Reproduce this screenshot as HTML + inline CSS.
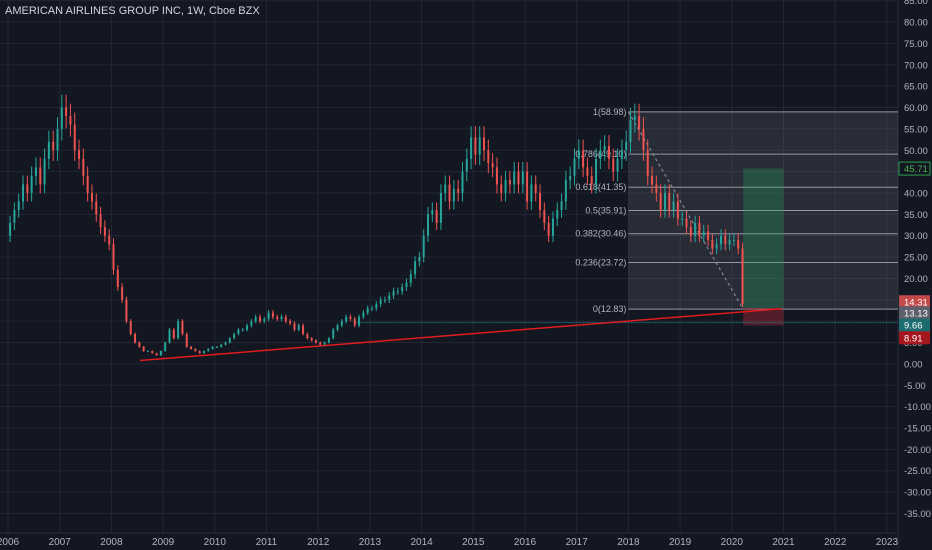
<!DOCTYPE html>
<html><head><meta charset="utf-8"><style>
html,body{margin:0;padding:0;background:#131722;}
svg{display:block;font-family:"Liberation Sans",sans-serif;}
</style></head><body>
<svg id="chart" width="932" height="550" xmlns="http://www.w3.org/2000/svg">
<rect width="932" height="550" fill="#131722"/>
<g id="grid"></g>
<g id="overlays"></g>
<g id="candles"></g>
<g id="tools"></g>
<g id="yaxis"></g>
<g id="xaxis"></g>
<text x="5" y="14" fill="#d1d4dc" font-size="11">AMERICAN AIRLINES GROUP INC, 1W, Cboe BZX</text>
</svg>
<script>
const startYear = 2006;
const closes = [
33,36,38,42,40,44,46,42,48,52,50,55,
60,58,56,50,48,44,40,38,35,32,30,28,
22,18,15,10,7,5,4,3,3,2.5,2,3,
5,8,6,10,7,4,3.5,3,2.5,3,3.5,4,
4,4.5,5,6,7,8,8,9,10,11,10,10.5,
12,11,10.5,11,10,9.5,8,9,7,6,5.5,5,
4.5,5,6,8,9,10,11,10.5,9,11,12,13,
13,14,15,15,16,17,17,18,19,21,24,25,
30,35,36,33,40,42,38,41,40,45,48,53,
49,53,50,47,46,42,40,43,42,45,42,45,
38,42,40,36,33,30,34,36,38,43,44,48,
50,46,44,42,48,50,51,48,45,48,50,52,
57,58,55,50,44,42,40,36,40,36,38,34,
34,32,30,33,30,31,29,27,28,30,28,29,
29,27,14];
const firstOpen = 30;
const yTicks = [85,80,75,70,65,60,55,50,45,40,35,30,25,20,15,10,5,0,-5,-10,-15,-20,-25,-30,-35];
const xYears = [2006,2007,2008,2009,2010,2011,2012,2013,2014,2015,2016,2017,2018,2019,2020,2021,2022,2023];
const fibRatios = [1,0.786,0.618,0.5,0.382,0.236,0];
const fibHigh = 58.98, fibLow = 12.83;
const trendDates = [2008.55, 2020.95];
const trendValues = [0.8, 12.9];
const posEntry = 13.13, posTarget = 45.71, posStop = 9.0;
const hLineValue = 9.66;

const NS="http://www.w3.org/2000/svg";
const PW=898, PB=533;
function y(v){return 363.9-4.273*v;}
function x(t){return 8+(t-2006)*51.7;}
function mk(tag,attrs,parent){const e=document.createElementNS(NS,tag);for(const k in attrs)e.setAttribute(k,attrs[k]);parent.appendChild(e);return e;}
const grid=document.getElementById('grid'),yax=document.getElementById('yaxis'),xax=document.getElementById('xaxis');
const ov=document.getElementById('overlays'),cg=document.getElementById('candles'),tl=document.getElementById('tools');

yTicks.forEach(v=>{
  const l=mk('line',{x1:0,x2:PW,y1:y(v),y2:y(v),stroke:'#232734','stroke-width':1},grid);
  
  
  const t=mk('text',{x:904,y:y(v)+3.5,fill:'#b2b5be','font-size':9.5},yax);
  t.textContent=v.toFixed(2);
  
  
});
xYears.forEach(yr=>{
  const l=mk('line',{x1:x(yr),x2:x(yr),y1:0,y2:PB,stroke:'#232734','stroke-width':1},grid);
  
  
  const t=mk('text',{x:x(yr),y:545,fill:'#b2b5be','font-size':10,'text-anchor':'middle'},xax);
  t.textContent=yr;
  
  
});
mk('line',{x1:PW,x2:PW,y1:0,y2:550,stroke:'#2a2e39'},grid);
mk('line',{x1:0,x2:PW,y1:PB,y2:PB,stroke:'#2a2e39'},grid);

// fib retracement box
const fx1=x(2018.0), fx2=PW;
const fb=mk('rect',{x:fx1,y:y(fibHigh),width:fx2-fx1,height:y(fibLow)-y(fibHigh),fill:'rgba(120,123,134,0.22)'},ov);


fibRatios.forEach(r=>{
  const v=fibLow+(fibHigh-fibLow)*r;
  const l=mk('line',{x1:fx1,x2:fx2,y1:y(v),y2:y(v),stroke:'#9598a1','stroke-width':1},ov);
  
  
  const t=mk('text',{x:fx1-2,y:y(v)+3,fill:'#b2b5be','font-size':9,'text-anchor':'end'},ov);
  t.textContent=r+'('+v.toFixed(2)+')';
  
  
});
const fd=mk('line',{x1:fx1,y1:y(fibHigh),x2:x(2020.22),y2:y(fibLow),stroke:'#9598a1','stroke-dasharray':'3,3'},ov);



// position tool
const px1=x(2020.22), px2=x(2021.0);
const gr=mk('rect',{x:px1,y:y(posTarget),width:px2-px1,height:y(posEntry)-y(posTarget),fill:'rgba(38,166,91,0.3)'},ov);


const rr=mk('rect',{x:px1,y:y(posEntry),width:px2-px1,height:y(posStop)-y(posEntry),fill:'rgba(178,40,51,0.4)'},ov);



// horizontal line
const hl=mk('line',{x1:x(2012.7),x2:PW,y1:y(hLineValue),y2:y(hLineValue),stroke:'#1e6f74','stroke-dasharray':'2,1'},ov);



// candles
let prev=firstOpen;
closes.forEach((c,i)=>{
  const t=startYear+i/12;
  const o=prev, hi=Math.max(o,c)*1.05, lo=Math.min(o,c)*0.95;
  const col=c>=o?'#26a69a':'#ef5350';
  const cx=x(t)+2.1;
  const w=mk('line',{x1:cx,x2:cx,y1:y(hi),y2:y(lo),stroke:col,'stroke-width':1},cg);
  
  
  const top=y(Math.max(o,c)),h=Math.max(1,y(Math.min(o,c))-top);
  const b=mk('rect',{x:cx-1,y:top,width:2,height:h,fill:col},cg);
  
  
  prev=c;
});

// trend line
const tr=mk('line',{x1:x(trendDates[0]),y1:y(trendValues[0]),x2:x(trendDates[1]),y2:y(trendValues[1]),stroke:'#e01c1c','stroke-width':1.5},tl);



// price labels on axis
function tag(v,shift,bg,fg,border,name){
  const cy=y(v)+shift;
  const r=mk('rect',{x:PW+1,y:cy-6.5,width:31,height:13,fill:bg,stroke:border||'none'},yax);
  
  
  const t=mk('text',{x:904,y:cy+3.5,fill:fg,'font-size':9.5},yax);
  t.textContent=v.toFixed(2);
  
  
}
tag(posTarget,0,'#131722','#4caf50','#2e9e4f','target-price-label');
tag(14.31,-1,'#c44a4a','#ffffff',null,'last-price-label');
tag(posEntry,5,'#5d606b','#ffffff',null,'entry-price-label');
tag(hLineValue,2.5,'#1b6b6f','#ffffff',null,'line-price-label');
tag(8.91,12,'#a5171f','#ffffff',null,'stop-price-label');
</script>
</body></html>
